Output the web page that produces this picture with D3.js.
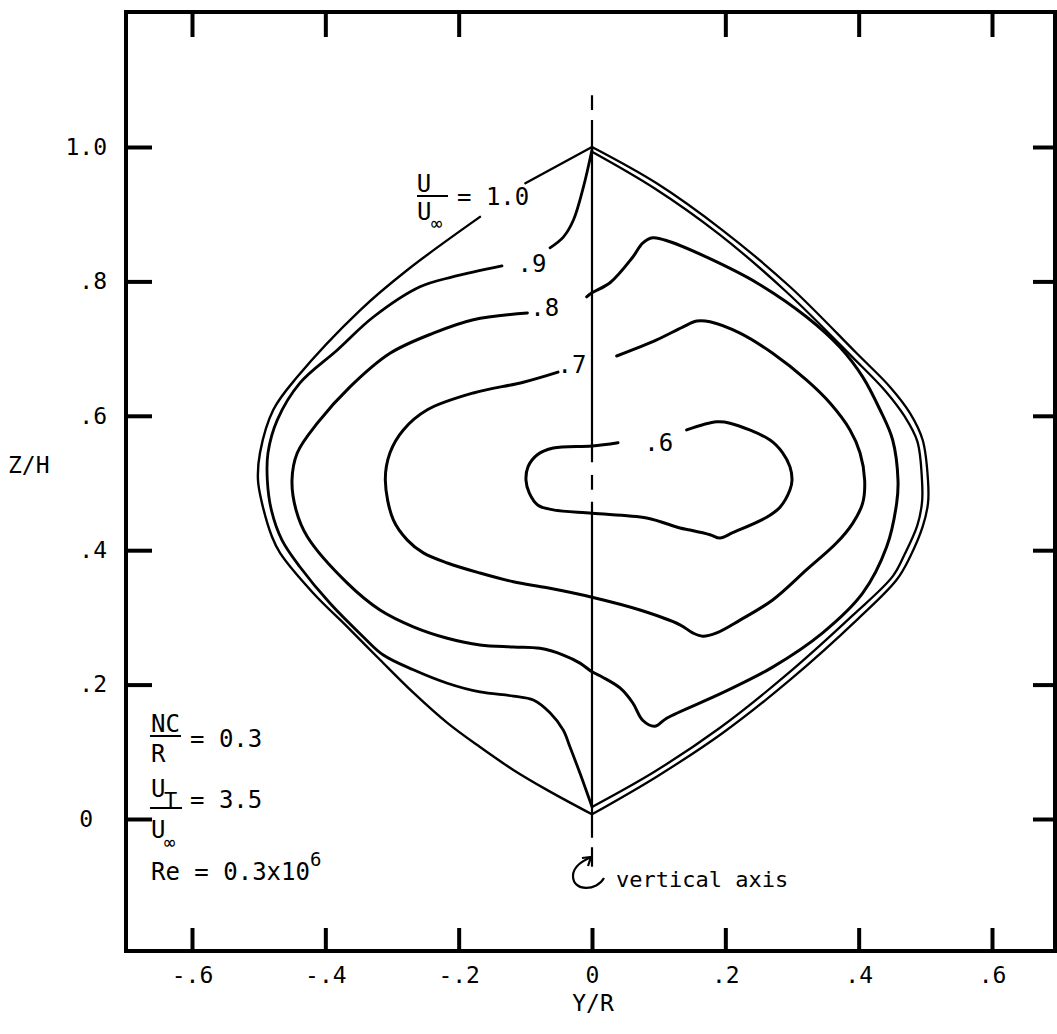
<!DOCTYPE html>
<html>
<head>
<meta charset="utf-8">
<style>
  body { margin: 0; background: #fff; }
  svg text { font-family: "DejaVu Sans Mono", monospace; fill: #000; }
</style>
</head>
<body>
<script src="https://d3js.org/d3.v7.min.js"></script>
<script>
// ---- data (Y/R, Z/H) ----
var xTicks = [-0.6, -0.4, -0.2, 0, 0.2, 0.4, 0.6];
var xTickLabels = ["-.6", "-.4", "-.2", "0", ".2", ".4", ".6"];
var topTicks = [-0.6, -0.4, -0.2, 0.2, 0.4, 0.6];
var yTicks = [0, 0.2, 0.4, 0.6, 0.8, 1.0];
var yTickLabels = ["0", ".2", ".4", ".6", ".8", "1.0"];

// U/Uinf = 1.0
var c10Top = [[0, 1.0], [-0.100, 0.946]];
var c10Left = [[-0.168, 0.896], [-0.277, 0.817], [-0.348, 0.757], [-0.442, 0.658], [-0.478, 0.609],
  [-0.498, 0.545], [-0.501, 0.504], [-0.495, 0.470], [-0.480, 0.420], [-0.468, 0.396],
  [-0.418, 0.336], [-0.367, 0.286], [-0.318, 0.237], [-0.268, 0.188], [-0.217, 0.143],
  [-0.168, 0.107], [-0.118, 0.073], [-0.067, 0.043], [0, 0.007]];
var c10Right = [[0, 1.0], [0.097, 0.946], [0.196, 0.876], [0.297, 0.792], [0.397, 0.693],
  [0.447, 0.643], [0.477, 0.604], [0.496, 0.564], [0.504, 0.504], [0.504, 0.470],
  [0.496, 0.435], [0.477, 0.390], [0.457, 0.356], [0.397, 0.296], [0.297, 0.207],
  [0.196, 0.128], [0.097, 0.063], [0, 0.007]];

// U/Uinf = .9
var c09Top = [[0, 0.996], [-0.013, 0.940], [-0.028, 0.891], [-0.043, 0.866], [-0.063, 0.850]];
var c09Left = [[-0.135, 0.823], [-0.208, 0.807], [-0.258, 0.792], [-0.328, 0.747], [-0.382, 0.698],
  [-0.438, 0.649], [-0.472, 0.594], [-0.486, 0.545], [-0.487, 0.504], [-0.481, 0.460],
  [-0.465, 0.415], [-0.438, 0.375], [-0.393, 0.321], [-0.343, 0.271], [-0.313, 0.244],
  [-0.268, 0.222], [-0.217, 0.202], [-0.168, 0.189], [-0.118, 0.183], [-0.088, 0.177],
  [-0.063, 0.158], [-0.043, 0.132], [-0.033, 0.107], [-0.018, 0.068], [0, 0.018]];
var c09Right = [[0, 0.993], [0.093, 0.939], [0.191, 0.870], [0.291, 0.785], [0.391, 0.687],
  [0.440, 0.637], [0.469, 0.599], [0.488, 0.562], [0.495, 0.504], [0.495, 0.471],
  [0.488, 0.437], [0.469, 0.394], [0.451, 0.361], [0.391, 0.303], [0.291, 0.214],
  [0.191, 0.135], [0.093, 0.070], [0, 0.018]];

// U/Uinf = .8
var c08 = [[-0.097, 0.753], [-0.178, 0.743], [-0.238, 0.723], [-0.303, 0.693], [-0.363, 0.643],
  [-0.412, 0.589], [-0.442, 0.545], [-0.450, 0.504], [-0.444, 0.460], [-0.427, 0.420],
  [-0.367, 0.351], [-0.318, 0.311], [-0.268, 0.286], [-0.217, 0.269], [-0.168, 0.259],
  [-0.118, 0.256], [-0.078, 0.254], [-0.043, 0.244], [-0.018, 0.232], [0, 0.219],
  [0.016, 0.211], [0.042, 0.195], [0.061, 0.173], [0.076, 0.147], [0.094, 0.138],
  [0.112, 0.150], [0.196, 0.188], [0.271, 0.226], [0.346, 0.277], [0.406, 0.336],
  [0.442, 0.405], [0.457, 0.470], [0.459, 0.504], [0.451, 0.564], [0.432, 0.609],
  [0.406, 0.658], [0.372, 0.702], [0.322, 0.747], [0.247, 0.798], [0.172, 0.836],
  [0.117, 0.859], [0.091, 0.865], [0.076, 0.857], [0.061, 0.836], [0.027, 0.798],
  [0, 0.783], [-0.008, 0.777]];

// U/Uinf = .7
var c07 = [[-0.051, 0.665], [-0.103, 0.650], [-0.178, 0.634], [-0.247, 0.609], [-0.283, 0.579],
  [-0.303, 0.545], [-0.310, 0.504], [-0.298, 0.445], [-0.277, 0.415], [-0.253, 0.396],
  [-0.217, 0.381], [-0.168, 0.366], [-0.118, 0.353], [-0.067, 0.344], [0, 0.330],
  [0.072, 0.311], [0.132, 0.289], [0.151, 0.277], [0.166, 0.272], [0.187, 0.277],
  [0.222, 0.296], [0.271, 0.326], [0.322, 0.371], [0.367, 0.411], [0.391, 0.440],
  [0.406, 0.470], [0.409, 0.504], [0.402, 0.545], [0.387, 0.579], [0.357, 0.619],
  [0.322, 0.653], [0.271, 0.693], [0.222, 0.723], [0.177, 0.740], [0.157, 0.741],
  [0.136, 0.732], [0.097, 0.713], [0.037, 0.689]];

// U/Uinf = .6
var c06 = [[0.142, 0.579], [0.187, 0.591], [0.207, 0.589], [0.267, 0.564], [0.286, 0.545],
  [0.297, 0.524], [0.300, 0.504], [0.297, 0.490], [0.282, 0.464], [0.262, 0.449],
  [0.211, 0.426], [0.192, 0.418], [0.177, 0.423], [0.147, 0.430], [0.132, 0.433],
  [0.082, 0.448], [0, 0.455], [-0.058, 0.460], [-0.081, 0.467], [-0.094, 0.485],
  [-0.099, 0.504], [-0.096, 0.524], [-0.082, 0.542], [-0.058, 0.552], [0, 0.555],
  [0.039, 0.560]];

var contourLabels = [
  { text: ".9", x: -0.090, z: 0.827 },
  { text: ".8", x: -0.071, z: 0.762 },
  { text: ".7", x: -0.030, z: 0.676 },
  { text: ".6", x: 0.100, z: 0.560 }
];

// dashed vertical axis pieces (Z/H)
var axisPieces = [[1.077, 1.055], [1.040, 0.531], [0.512, 0.490], [0.472, -0.028], [-0.042, -0.071]];

// ---- drawing ----
var W = 1057, H = 1034;
var svg = d3.select("body").append("svg").attr("width", W).attr("height", H);
svg.append("rect").attr("width", W).attr("height", H).attr("fill", "#fff");

var x = d3.scaleLinear().domain([-0.6, 0.6]).range([192, 992]);
var y = d3.scaleLinear().domain([0, 1]).range([819, 147]);

// plot frame in pixels
var fL = 126, fR = 1055, fT = 12, fB = 951;

svg.append("rect").attr("x", fL).attr("y", fT)
  .attr("width", fR - fL).attr("height", fB - fT)
  .attr("fill", "none").attr("stroke", "#000").attr("stroke-width", 4);

function styleAxis(g) {
  g.select(".domain").remove();
  g.selectAll(".tick line").attr("stroke", "#000").attr("stroke-width", 4);
  g.selectAll(".tick text").attr("font-family", "DejaVu Sans Mono").attr("font-size", 23).attr("fill", "#000");
  g.attr("font-family", null).attr("font-size", null);
}

svg.append("g").attr("transform", "translate(" + fL + ",0)")
  .call(d3.axisLeft(y).tickValues(yTicks).tickSize(-26).tickPadding(19)
    .tickFormat(function (d, i) { return yTickLabels[i]; }))
  .call(styleAxis)
  .selectAll(".tick text").filter(function (d) { return d === 0; }).attr("dx", -14);

svg.append("g").attr("transform", "translate(" + fR + ",0)")
  .call(d3.axisRight(y).tickValues(yTicks).tickSize(-22).tickFormat(""))
  .call(styleAxis);

svg.append("g").attr("transform", "translate(0," + fB + ")")
  .call(d3.axisBottom(x).tickValues(xTicks).tickSize(-23).tickPadding(16)
    .tickFormat(function (d, i) { return xTickLabels[i]; }))
  .call(styleAxis);

svg.append("g").attr("transform", "translate(0," + fT + ")")
  .call(d3.axisTop(x).tickValues(topTicks).tickSize(-25).tickFormat(""))
  .call(styleAxis);

// axis titles
svg.append("text").attr("x", 8).attr("y", 473).attr("font-size", 23).text("Z/H");
svg.append("text").attr("x", 593).attr("y", 1011).attr("font-size", 23)
  .attr("text-anchor", "middle").text("Y/R");

// vertical axis of the rotor
svg.append("g").selectAll("line").data(axisPieces).enter().append("line")
  .attr("x1", x(0)).attr("x2", x(0))
  .attr("y1", function (d) { return y(d[0]); })
  .attr("y2", function (d) { return y(d[1]); })
  .attr("stroke", "#000").attr("stroke-width", 2.2);

// contours
var line = d3.line()
  .x(function (d) { return x(d[0]); })
  .y(function (d) { return y(d[1]); })
  .curve(d3.curveCatmullRom.alpha(0.5));

var paths = [
  { d: c10Top, w: 2.4 }, { d: c10Left, w: 2.4 }, { d: c10Right, w: 2.3 },
  { d: c09Top, w: 2.8 }, { d: c09Left, w: 2.8 }, { d: c09Right, w: 2.3 },
  { d: c08, w: 3 }, { d: c07, w: 3 }, { d: c06, w: 3 }
];
svg.append("g").selectAll("path").data(paths).enter().append("path")
  .attr("d", function (p) { return line(p.d); })
  .attr("fill", "none").attr("stroke", "#000")
  .attr("stroke-width", function (p) { return p.w; })
  .attr("stroke-linejoin", "round").attr("stroke-linecap", "round");

// contour labels
svg.append("g").selectAll("text").data(contourLabels).enter().append("text")
  .attr("x", function (d) { return x(d.x); })
  .attr("y", function (d) { return y(d.z); })
  .attr("dy", "0.36em").attr("text-anchor", "middle").attr("font-size", 24)
  .text(function (d) { return d.text; });

// U/Uinf = 1.0 label
var lab = svg.append("g");
lab.append("text").attr("x", 424).attr("y", 192).attr("font-size", 24).attr("text-anchor", "middle").text("U");
lab.append("line").attr("x1", 417).attr("x2", 448).attr("y1", 196).attr("y2", 196)
  .attr("stroke", "#000").attr("stroke-width", 2);
lab.append("text").attr("x", 417).attr("y", 220).attr("font-size", 24).text("U");
lab.append("text").attr("x", 431).attr("y", 230).attr("font-size", 19).text("\u221E");
lab.append("text").attr("x", 457).attr("y", 205).attr("font-size", 24).text("= 1.0");

// parameters
var par = svg.append("g");
par.append("text").attr("x", 151).attr("y", 732).attr("font-size", 24).text("NC");
par.append("line").attr("x1", 150).attr("x2", 181).attr("y1", 736).attr("y2", 736)
  .attr("stroke", "#000").attr("stroke-width", 2);
par.append("text").attr("x", 151).attr("y", 762).attr("font-size", 24).text("R");
par.append("text").attr("x", 190).attr("y", 747).attr("font-size", 24).text("= 0.3");

par.append("text").attr("x", 151).attr("y", 797).attr("font-size", 24).text("U");
par.append("text").attr("x", 164).attr("y", 808).attr("font-size", 22).text("T");
par.append("line").attr("x1", 150).attr("x2", 182).attr("y1", 808).attr("y2", 808)
  .attr("stroke", "#000").attr("stroke-width", 2);
par.append("text").attr("x", 151).attr("y", 838).attr("font-size", 24).text("U");
par.append("text").attr("x", 164).attr("y", 849).attr("font-size", 19).text("\u221E");
par.append("text").attr("x", 190).attr("y", 808).attr("font-size", 24).text("= 3.5");

par.append("text").attr("x", 151).attr("y", 880).attr("font-size", 24).text("Re = 0.3x10");
par.append("text").attr("x", 310).attr("y", 866).attr("font-size", 19).text("6");

// vertical axis note
var note = svg.append("g");
note.append("path")
  .attr("d", "M604,878 C597,891 573,892 573,876 C573,866 583,861 591,857")
  .attr("fill", "none").attr("stroke", "#000").attr("stroke-width", 2.2);
note.append("path")
  .attr("d", "M582,858 L591,857 L588,866")
  .attr("fill", "none").attr("stroke", "#000").attr("stroke-width", 2.2);
note.append("text").attr("x", 616).attr("y", 887).attr("font-size", 22).text("vertical axis");
</script>
</body>
</html>
